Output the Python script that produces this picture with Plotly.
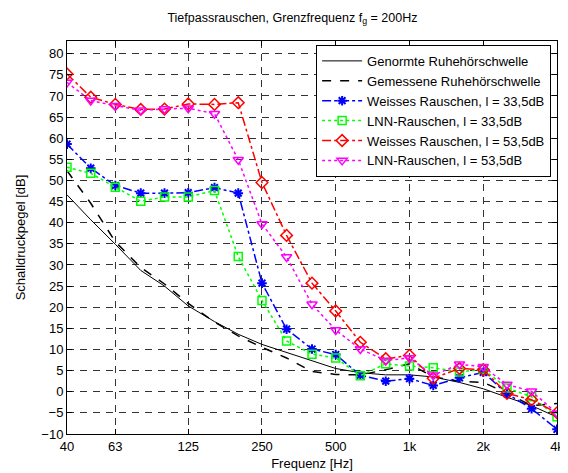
import plotly.graph_objects as go

freqs = [40, 50, 63, 80, 100, 125, 160, 200, 250, 315, 400, 500, 630, 800,
         1000, 1250, 1600, 2000, 2500, 3150, 4000]

genormt = [46.6, 40.7, 34.9, 28.7, 25.0, 20.3, 16.6, 13.6, 11.2, 9.3, 7.5, 5.5,
           4.5, 4.0, 4.0, 3.5, 2.2, 0.7, -1.3, -3.3, -6.0]
gemessen = [52.3, 44.6, 35.5, 29.4, 25.5, 20.9, 16.5, 13.2, 10.5, 8.0, 4.8, 4.1,
            4.0, 5.2, 6.6, 3.5, 2.5, 2.2, -0.3, -3.3, -2.8]
weiss_33 = [58.6, 52.9, 48.8, 47.0, 47.0, 47.1, 48.3, 47.0, 25.7, 14.8, 10.1, 8.8,
            3.9, 2.5, 3.1, 1.5, 3.3, 4.6, -0.5, -4.0, -8.9]
lnn_33 = [53.1, 51.7, 48.4, 45.1, 46.1, 46.1, 47.6, 32.0, 21.6, 12.0, 8.9, 8.0,
          3.8, 6.6, 6.1, 5.7, 4.7, 5.3, 0.9, -1.2, -5.9]
weiss_53 = [75.2, 69.7, 68.0, 66.8, 66.9, 68.1, 68.0, 68.4, 49.5, 37.0, 25.7, 19.1,
            11.7, 7.8, 8.6, 3.2, 5.5, 5.2, -0.4, -1.9, -5.0]
lnn_53 = [73.2, 68.9, 67.7, 66.6, 66.9, 67.1, 65.8, 54.9, 39.7, 31.9, 20.7, 14.6,
          10.1, 7.4, 8.0, 3.9, 6.5, 5.9, 1.7, 0.1, -5.1]

x_tickvals = [40, 63, 125, 250, 500, 1000, 2000, 4000]
x_ticktext = ["40", "63", "125", "250", "500", "1k", "2k", "4k"]
y_tickvals = list(range(-10, 81, 5))

FONT = "Liberation Sans, Arial, Helvetica, sans-serif"

fig = go.Figure()
fig.add_trace(go.Scatter(x=freqs, y=genormt, mode="lines",
                         name="Genormte Ruhehörschwelle",
                         line=dict(color="black", width=1)))
fig.add_trace(go.Scatter(x=freqs, y=gemessen, mode="lines",
                         name="Gemessene Ruhehörschwelle",
                         line=dict(color="black", width=1.5, dash="dash")))
fig.add_trace(go.Scatter(x=freqs, y=weiss_33, mode="lines+markers",
                         name="Weisses Rauschen, l = 33,5dB",
                         line=dict(color="#0000ff", width=1.5, dash="dashdot"),
                         marker=dict(symbol="asterisk-open", size=8,
                                     line=dict(color="#0000ff", width=2))))
fig.add_trace(go.Scatter(x=freqs, y=lnn_33, mode="lines+markers",
                         name="LNN-Rauschen, l = 33,5dB",
                         line=dict(color="#00ff00", width=1.5, dash="dot"),
                         marker=dict(symbol="square-open", size=8,
                                     line=dict(color="#00ff00", width=1.5))))
fig.add_trace(go.Scatter(x=freqs, y=weiss_53, mode="lines+markers",
                         name="Weisses Rauschen, l = 53,5dB",
                         line=dict(color="#ff0000", width=1.5, dash="dashdot"),
                         marker=dict(symbol="diamond-open", size=9,
                                     line=dict(color="#ff0000", width=1.5))))
fig.add_trace(go.Scatter(x=freqs, y=lnn_53, mode="lines+markers",
                         name="LNN-Rauschen, l = 53,5dB",
                         line=dict(color="#ff00ff", width=1.5, dash="dot"),
                         marker=dict(symbol="triangle-down-open", size=9,
                                     line=dict(color="#ff00ff", width=1.5))))

axis_common = dict(showline=True, linecolor="black", linewidth=1, mirror="allticks",
                   ticks="inside", ticklen=5, tickcolor="black",
                   showgrid=True, gridcolor="#333333", gridwidth=1, griddash="7px,6px",
                   zeroline=False, tickfont=dict(size=13, color="black", family=FONT))

fig.update_xaxes(type="log", range=[1.60206, 3.60206], tickvals=x_tickvals,
                 ticktext=x_ticktext,
                 title=dict(text="Frequenz [Hz]", font=dict(size=13, color="black", family=FONT),
                            standoff=6),
                 **axis_common)
fig.update_yaxes(range=[-10, 83], tickvals=y_tickvals,
                 title=dict(text="Schalldruckpegel [dB]", font=dict(size=13, color="black", family=FONT),
                            standoff=12),
                 **axis_common)

fig.update_layout(
    width=568, height=473,
    margin=dict(l=52, r=12, t=33, b=44),
    paper_bgcolor="white", plot_bgcolor="white",
    font=dict(family=FONT, size=13, color="black"),
    title=dict(text="Tiefpassrauschen, Grenzfrequenz f<sub>g</sub> = 200Hz",
               x=0.46, xref="paper", xanchor="center", y=0.98, yanchor="middle",
               font=dict(size=12.5, color="black", family=FONT)),
    legend=dict(x=0.988, y=0.99, xanchor="right", yanchor="top",
                bgcolor="white", bordercolor="black", borderwidth=1,
                font=dict(size=13, color="black", family=FONT),
                tracegroupgap=0, itemwidth=40),
    showlegend=True,
)

fig.write_html("out.html")
